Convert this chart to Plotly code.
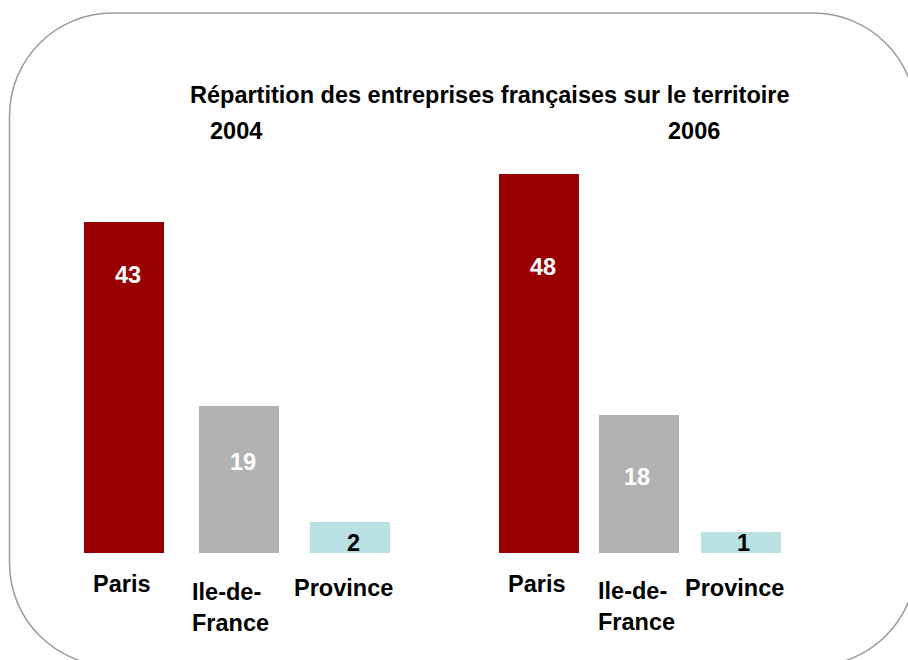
import plotly.graph_objects as go


'''
Data
'''
title_text = 'Répartition des entreprises françaises sur le territoire'
years = ['2004', '2006']
regions = ['Paris', 'Ile-de-<br>France', 'Province']
values_2004 = [43, 19, 2]
values_2006 = [48, 18, 1]
# heights as drawn in the original slide (the Province bars are drawn taller than their value)
heights_2004 = [42.7, 19.0, 4.0]
heights_2006 = [48.9, 17.8, 2.7]
bar_colors = ['#990000', '#b2b2b2', '#b9e0e3']
label_colors = ['white', 'white', 'black']


'''
Layout (pixels of the 908x660 page)
'''
W, H = 908, 660
PX_PER_UNIT = 7.75
BASELINE = 553
FONT = 'Liberation Sans, Arial, sans-serif'
FONT_SIZE = 23.5

bar_x = {'2004': [124, 238.5, 349.5], '2006': [538.5, 639, 741]}
value_pos = {'2004': [(128, 275), (243, 462), (353, 543)],
             '2006': [(543, 267), (637, 477), (743, 543)]}
region_pos = {'2004': [(122, 584, 'center'), (190, 607, 'left'), (343, 588, 'center')],
              '2006': [(537, 584, 'center'), (596, 606, 'left'), (734, 588, 'center')]}
year_pos = {'2004': (236, 131), '2006': (694, 131)}


def py(y: float) -> float:
    return 1 - y / H


def rounded_box_path(x0: float, y0: float, x1: float, y1: float, r: float) -> str:
    k = 0.5523 * r
    X = lambda v: v / W
    pts = [
        f'M {X(x0 + r)},{py(y0)}',
        f'L {X(x1 - r)},{py(y0)}',
        f'C {X(x1 - r + k)},{py(y0)} {X(x1)},{py(y0 + r - k)} {X(x1)},{py(y0 + r)}',
        f'L {X(x1)},{py(y1 - r)}',
        f'C {X(x1)},{py(y1 - r + k)} {X(x1 - r + k)},{py(y1)} {X(x1 - r)},{py(y1)}',
        f'L {X(x0 + r)},{py(y1)}',
        f'C {X(x0 + r - k)},{py(y1)} {X(x0)},{py(y1 - r + k)} {X(x0)},{py(y1 - r)}',
        f'L {X(x0)},{py(y0 + r)}',
        f'C {X(x0)},{py(y0 + r - k)} {X(x0 + r - k)},{py(y0)} {X(x0 + r)},{py(y0)}',
        'Z',
    ]
    return ' '.join(pts)


def add_text(fig: go.Figure, x: float, y: float, text: str, color: str = 'black',
             xanchor: str = 'center', align: str = 'center') -> None:
    fig.add_annotation(
        x=x, y=py(y), xref='x', yref='paper', text=text, showarrow=False,
        xanchor=xanchor, yanchor='middle', align=align,
        font=dict(family=FONT, size=FONT_SIZE, color=color, weight='bold')
    )


def get_fig() -> go.Figure:
    fig = go.Figure()

    data = {'2004': (values_2004, heights_2004), '2006': (values_2006, heights_2006)}
    for year in years:
        values, heights = data[year]
        fig.add_trace(go.Bar(
            x=bar_x[year],
            y=heights,
            width=80,
            marker=dict(color=bar_colors, line=dict(width=0)),
            hoverinfo='skip',
            showlegend=False
        ))

        for i, v in enumerate(values):
            x, y = value_pos[year][i]
            add_text(fig, x, y, str(v), color=label_colors[i])

        for i, name in enumerate(regions):
            x, y, align = region_pos[year][i]
            add_text(fig, x, y, name, xanchor='left' if align == 'left' else 'center', align=align)

        x, y = year_pos[year]
        add_text(fig, x, y, year)

    add_text(fig, 489.5, 95, title_text)

    fig.add_shape(
        type='path', xref='paper', yref='paper',
        path=rounded_box_path(9.5, 13, 916, 666, 103),
        line=dict(color='#9a9a9a', width=1.5), layer='below'
    )

    fig.update_layout(
        width=W, height=H,
        margin=dict(l=0, r=0, t=0, b=0),
        paper_bgcolor='white', plot_bgcolor='white',
        bargap=0
    )
    fig.update_xaxes(range=[0, W], visible=False, fixedrange=True)
    fig.update_yaxes(range=[-(H - BASELINE) / PX_PER_UNIT, BASELINE / PX_PER_UNIT],
                     visible=False, fixedrange=True)

    return fig


fig = get_fig()
# the page is drawn flush with the window, as the reference is
fig.write_html('out.html', config={'displayModeBar': False},
               post_script="document.body.style.margin='0';")
